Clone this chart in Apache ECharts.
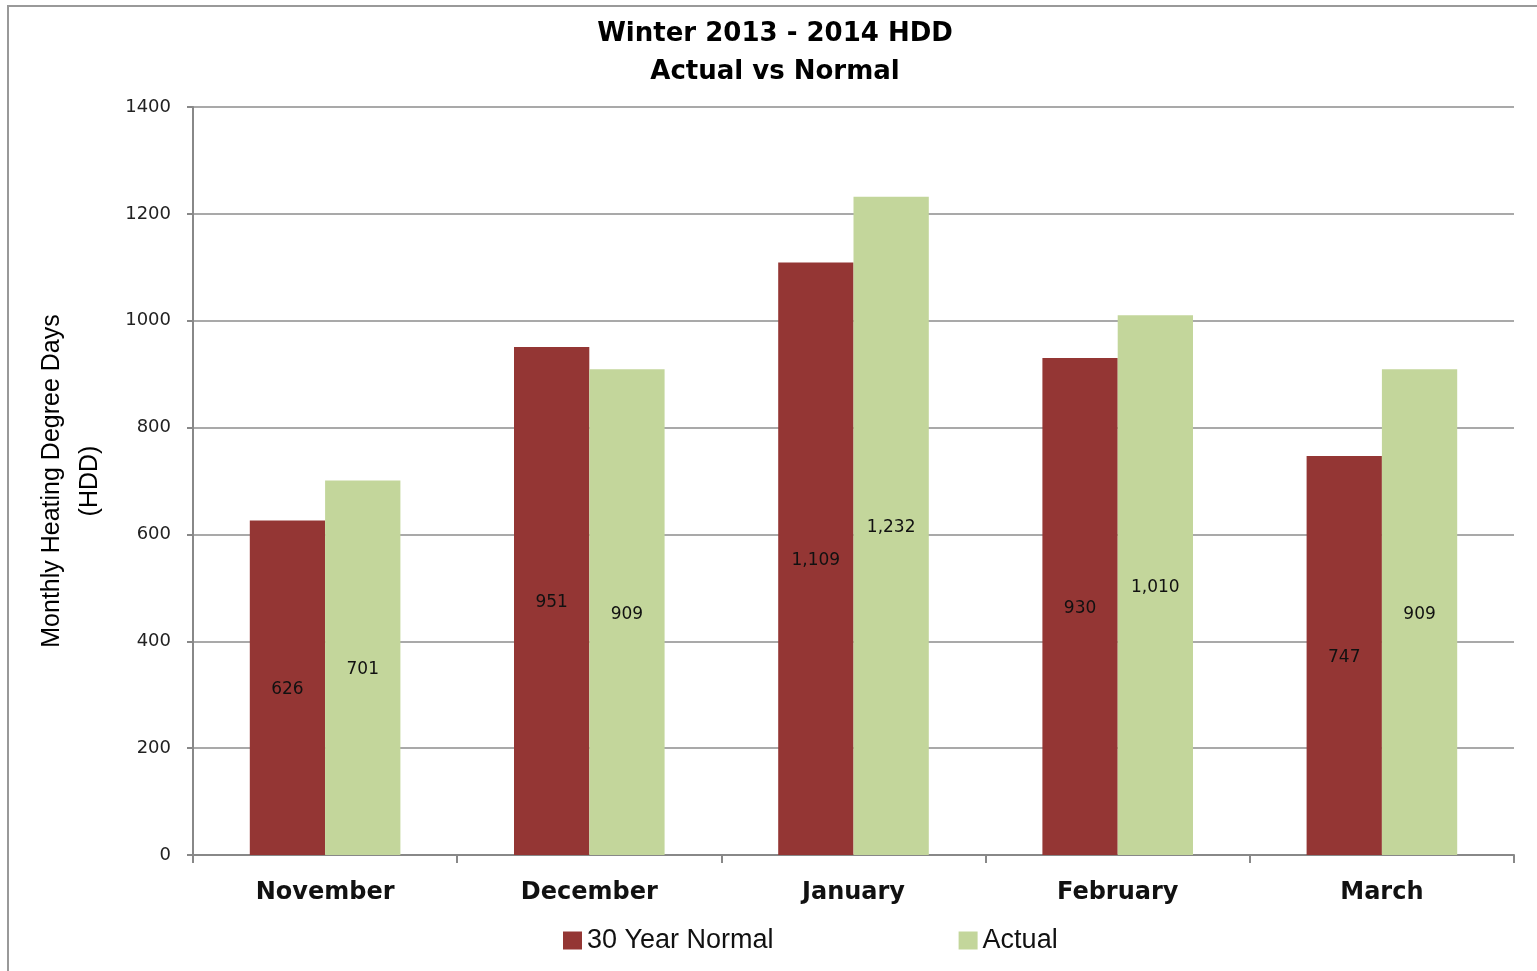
<!DOCTYPE html>
<html>
<head>
<meta charset="utf-8">
<title>Winter 2013 - 2014 HDD</title>
<script src="https://cdn.jsdelivr.net/npm/echarts@6/dist/echarts.min.js"></script>
<style>
    html, body { margin: 0; padding: 0; background: #fff; }
    #chart { width: 1537px; height: 971px; }
</style>
</head>
<body>
<div id="chart"></div>
<script>
// Chart data
const months = ['November', 'December', 'January', 'February', 'March'];
const normalHdd = [626, 951, 1109, 930, 747];
const actualHdd = [701, 909, 1232, 1010, 909];
const seriesNames = ['30 Year Normal', 'Actual'];
const seriesColors = ['#943634', '#C3D69B'];

const chart = echarts.init(document.getElementById('chart'));

function barSeries(name, data, color) {
    return {
        name: name,
        type: 'bar',
        data: data,
        itemStyle: { color: color },
        barGap: '0%',
        barCategoryGap: '43%',
        label: {
            show: true,
            position: 'inside',
            color: '#111',
            fontFamily: 'DejaVu Sans',
            fontSize: 17,
            offset: [0, 2],
            formatter: (p) => p.value.toLocaleString('en-US')
        }
    };
}

chart.setOption({
    animation: false,
    title: {
        text: 'Winter 2013 - 2014 HDD\nActual vs Normal',
        left: 770,
        top: 10,
        textAlign: 'center',
        textStyle: {
            fontFamily: 'DejaVu Sans',
            fontWeight: 'bold',
            fontSize: 26,
            lineHeight: 38,
            color: '#000'
        }
    },
    legend: {
        data: seriesNames,
        left: 558,
        top: 922,
        icon: 'rect',
        itemWidth: 19,
        itemHeight: 18,
        itemGap: 185,
        textStyle: { fontFamily: 'Liberation Sans', fontSize: 27, color: '#111' }
    },
    grid: { left: 193, right: 23, top: 107, bottom: 116 },
    xAxis: {
        type: 'category',
        data: months,
        axisLine: { lineStyle: { color: '#888', width: 2 } },
        axisTick: { show: true, length: 8, lineStyle: { color: '#888', width: 2 } },
        axisLabel: {
            margin: 26,
            fontFamily: 'DejaVu Sans',
            fontWeight: 'bold',
            fontSize: 24,
            color: '#111'
        }
    },
    yAxis: {
        type: 'value',
        min: 0,
        max: 1400,
        interval: 200,
        name: 'Monthly Heating Degree Days\n(HDD)',
        nameLocation: 'middle',
        nameGap: 84,
        nameTextStyle: {
            fontFamily: 'Liberation Sans',
            fontSize: 25,
            lineHeight: 38,
            color: '#000'
        },
        axisLine: { show: true, lineStyle: { color: '#888', width: 2 } },
        axisTick: { show: true, length: 6, lineStyle: { color: '#888', width: 2 } },
        splitLine: { lineStyle: { color: '#8c8c8c', width: 1.5 } },
        axisLabel: {
            margin: 22,
            fontFamily: 'DejaVu Sans',
            fontSize: 18,
            color: '#222',
            formatter: (v) => String(v)
        }
    },
    graphic: [{
        type: 'rect',
        shape: { x: 8, y: 6, width: 1560, height: 1000 },
        style: { fill: null, stroke: '#999', lineWidth: 2 },
        silent: true
    }],
    series: [
        barSeries(seriesNames[0], normalHdd, seriesColors[0]),
        barSeries(seriesNames[1], actualHdd, seriesColors[1])
    ]
});
</script>
</body>
</html>
